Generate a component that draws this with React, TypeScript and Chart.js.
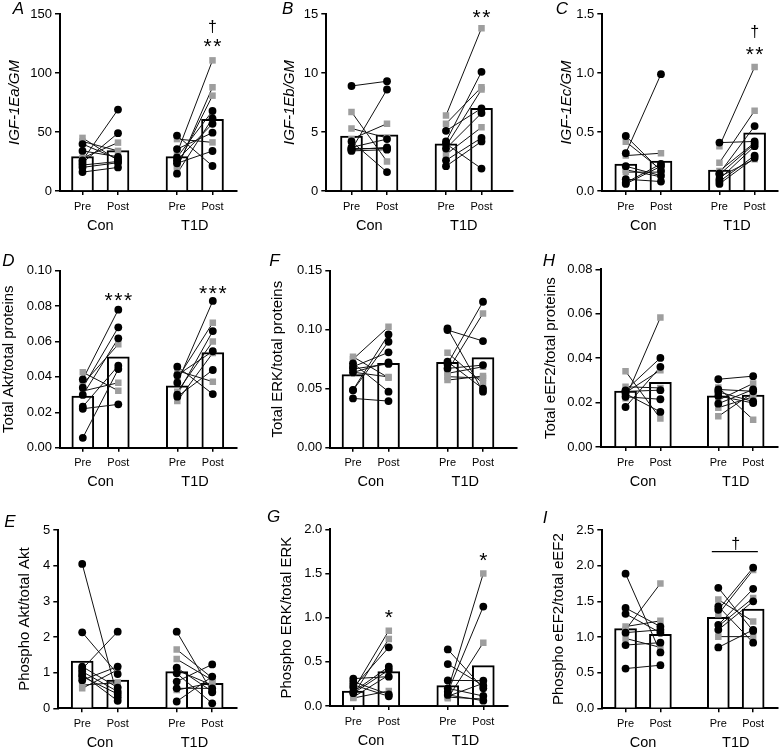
import React, { useEffect, useRef } from 'react';
import { Chart, registerables } from 'chart.js';

Chart.register(...registerables);

const FONT = "'Liberation Sans', Arial, Helvetica, sans-serif";
Chart.defaults.font.family = FONT;
Chart.defaults.color = '#000';

const GRAY = '#9e9e9e';

// shared axis labels
const TIME_LABELS = ['Pre', 'Post', 'Pre', 'Post'];
const GROUP_LABELS = ['Con', 'T1D'];

// ---------- A: IGF-1Ea/GM
const A_CON_PRE = [45, 42, 28, 39.8, 34, 26, 24, 22, 20, 16];
const A_CON_POST = [26, 34, 41, 27, 29, 69, 49, 25, 24, 20];
const A_CON_MARK = ['g', 'g', 'g', 'b', 'b', 'b', 'b', 'b', 'b', 'b'];
const A_T1D_PRE = [47, 35.5, 28.5, 26, 23.5, 14.7, 44, 32, 19, 21];
const A_T1D_POST = [21.2, 49.4, 67.8, 57, 33.9, 61.6, 41.2, 110.7, 87.9, 80.8];
const A_T1D_MARK = ['b', 'b', 'b', 'b', 'b', 'b', 'g', 'g', 'g', 'g'];
const A_MEANS = [29.1, 34.2, 29.1, 60.7];
const A_NOTES = [{ text: '†', at: 3, y: 139 }, { text: '**', at: 3, y: 127 }];

// ---------- B: IGF-1Eb/GM
const B_CON_PRE = [8.9, 3.5, 6.7, 5.3, 4.4, 4.2, 3.7, 3.6, 3.4, 3.5];
const B_CON_POST = [9.3, 8.6, 2.5, 4.5, 5.7, 1.6, 4.4, 3.6, 3.5, 3.7];
const B_CON_MARK = ['b', 'b', 'g', 'g', 'g', 'b', 'b', 'b', 'b', 'b'];
const B_T1D_PRE = [6.4, 5.7, 3.8, 3.1, 5.1, 4.2, 4.0, 3.6, 2.6, 2.1];
const B_T1D_POST = [13.8, 8.8, 8.6, 5.4, 7.0, 10.1, 1.9, 6.6, 4.5, 4.2];
const B_T1D_MARK = ['g', 'g', 'g', 'g', 'b', 'b', 'b', 'b', 'b', 'b'];
const B_MEANS = [4.66, 4.75, 4.0, 7.0];
const B_NOTES = [{ text: '**', at: 3, y: 15.17 }];

// ---------- C: IGF-1Ec/GM
const C_CON_PRE = [0.466, 0.32, 0.21, 0.10, 0.07, 0.06, 0.418, 0.30, 0.18, 0.16];
const C_CON_POST = [0.17, 0.99, 0.13, 0.08, 0.23, 0.21, 0.18, 0.32, 0.12, 0.16];
const C_CON_MARK = ['b', 'b', 'b', 'b', 'b', 'b', 'g', 'g', 'g', 'g'];
const C_T1D_PRE = [0.38, 0.24, 0.41, 0.15, 0.17, 0.14, 0.10, 0.08, 0.06, 0.12];
const C_T1D_POST = [1.05, 0.68, 0.42, 0.55, 0.41, 0.40, 0.38, 0.30, 0.28, 0.27];
const C_T1D_MARK = ['g', 'g', 'b', 'b', 'g', 'b', 'b', 'b', 'b', 'g'];
const C_MEANS = [0.229, 0.254, 0.178, 0.494];
const C_NOTES = [{ text: '†', at: 3, y: 1.341 }, { text: '**', at: 3, y: 1.205 }];

// ---------- D: Total Akt/total proteins
const D_CON_PRE = [0.0426, 0.036, 0.032, 0.0386, 0.0339, 0.0298, 0.0232, 0.022, 0.0056];
const D_CON_POST = [0.0322, 0.0584, 0.0367, 0.078, 0.068, 0.0618, 0.0463, 0.0245, 0.0444];
const D_CON_MARK = ['g', 'g', 'g', 'b', 'b', 'b', 'b', 'b', 'b'];
const D_T1D_PRE = [0.0458, 0.041, 0.0367, 0.030, 0.0288, 0.0435, 0.039, 0.0316, 0.0264];
const D_T1D_POST = [0.0303, 0.0545, 0.0829, 0.0659, 0.0439, 0.0373, 0.0706, 0.060, 0.0535];
const D_T1D_MARK = ['b', 'b', 'b', 'b', 'b', 'g', 'g', 'g', 'g'];
const D_MEANS = [0.0292, 0.0514, 0.035, 0.0537];
const D_NOTES = [{ text: '***', at: 1, y: 0.0861 }, { text: '***', at: 3, y: 0.0903 }];

// ---------- F: Total ERK/total proteins
const F_CON_PRE = [0.0771, 0.075, 0.064, 0.0715, 0.0686, 0.0667, 0.0638, 0.049, 0.0486, 0.0418];
const F_CON_POST = [0.0593, 0.1025, 0.060, 0.0475, 0.0808, 0.071, 0.0723, 0.096, 0.0898, 0.0395];
const F_CON_MARK = ['g', 'g', 'g', 'b', 'b', 'b', 'b', 'b', 'b', 'b'];
const F_T1D_PRE = [0.1011, 0.0997, 0.0729, 0.0709, 0.0672, 0.0805, 0.065, 0.063, 0.0602, 0.0573];
const F_T1D_POST = [0.0475, 0.0904, 0.050, 0.1237, 0.070, 0.0545, 0.1138, 0.0686, 0.059, 0.0607];
const F_T1D_MARK = ['b', 'b', 'b', 'b', 'b', 'g', 'g', 'g', 'g', 'g'];
const F_MEANS = [0.0619, 0.0715, 0.0723, 0.0763];
const F_NOTES: Note[] = [];

// ---------- H: Total eEF2/total proteins
const H_CON_PRE = [0.0341, 0.022, 0.0271, 0.0245, 0.0255, 0.018, 0.025, 0.024, 0.0226];
const H_CON_POST = [0.0128, 0.0583, 0.0266, 0.0346, 0.0401, 0.0361, 0.0256, 0.0158, 0.0215];
const H_CON_MARK = ['g', 'g', 'g', 'g', 'b', 'b', 'b', 'b', 'b'];
const H_T1D_PRE = [0.0305, 0.0268, 0.0259, 0.023, 0.0211, 0.0195, 0.0177, 0.0138, 0.0248];
const H_T1D_POST = [0.0319, 0.0123, 0.0251, 0.0198, 0.0286, 0.0259, 0.0226, 0.0245, 0.0205];
const H_T1D_MARK = ['b', 'g', 'b', 'b', 'g', 'b', 'g', 'g', 'b'];
const H_MEANS = [0.0252, 0.0291, 0.023, 0.0234];
const H_NOTES: Note[] = [];

// ---------- E: Phospho Akt/total Akt
const E_CON_PRE = [4.05, 2.13, 1.10, 1.17, 1.03, 0.95, 0.89, 0.79, 0.65, 0.56];
const E_CON_POST = [0.31, 0.96, 2.15, 0.58, 0.47, 0.21, 0.40, 1.17, 0.72, 1.08];
const E_CON_MARK = ['b', 'b', 'b', 'b', 'b', 'b', 'b', 'b', 'g', 'g'];
const E_T1D_PRE = [2.15, 1.65, 1.38, 1.14, 1.07, 0.98, 0.75, 0.56, 0.51, 0.19];
const E_T1D_POST = [0.45, 0.85, 0.79, 0.47, 0.65, 0.14, 1.23, 0.56, 0.72, 0.89];
const E_T1D_MARK = ['b', 'g', 'g', 'b', 'g', 'b', 'b', 'b', 'g', 'b'];
const E_MEANS = [1.327, 0.794, 1.03, 0.70];
const E_NOTES: Note[] = [];

// ---------- G: Phospho ERK/total ERK
const G_CON_PRE = [0.31, 0.275, 0.24, 0.21, 0.18, 0.16, 0.145, 0.125, 0.09, 0.10];
const G_CON_POST = [0.332, 0.132, 0.109, 0.664, 0.853, 0.445, 0.408, 0.758, 0.17, 0.35];
const G_CON_MARK = ['b', 'b', 'b', 'b', 'g', 'b', 'b', 'g', 'g', 'g'];
const G_T1D_PRE = [0.64, 0.475, 0.16, 0.18, 0.087, 0.29, 0.2, 0.125, 0.11, 0.10];
const G_T1D_POST = [0.20, 0.23, 1.125, 1.50, 0.717, 0.287, 0.113, 0.06, 0.257, 0.079];
const G_T1D_MARK = ['b', 'b', 'b', 'g', 'g', 'b', 'b', 'b', 'g', 'g'];
const G_MEANS = [0.17, 0.389, 0.23, 0.457];
const G_NOTES = [{ text: '*', at: 1, y: 1.058 }, { text: '*', at: 3, y: 1.709 }];

// ---------- I: Phospho eEF2/total eEF2
const I_CON_PRE = [1.887, 1.406, 1.325, 1.146, 1.10, 1.061, 0.98, 0.887, 0.557];
const I_CON_POST = [0.783, 1.146, 1.06, 1.226, 1.75, 1.10, 0.854, 0.92, 0.604];
const I_CON_MARK = ['b', 'b', 'b', 'g', 'g', 'b', 'g', 'b', 'b'];
const I_T1D_PRE = [1.689, 1.429, 1.382, 1.17, 1.10, 0.854, 1.524, 1.32, 1.15, 1.005];
const I_T1D_POST = [1.085, 0.92, 1.972, 1.675, 1.50, 1.10, 1.217, 1.939, 1.547, 1.005];
const I_T1D_MARK = ['b', 'b', 'b', 'b', 'b', 'b', 'g', 'g', 'g', 'g'];
const I_MEANS = [1.118, 1.038, 1.274, 1.39];
const I_NOTES = [{ text: '†', group: 1, y: 2.30 }];
const I_BRACKET = { y: 2.196 };

type Note = { text: string; at?: number; group?: number; y: number };

// ---------- layout (pixels)
const POS = [0, 35.5, 94.5, 130];
const GROUP_POS = [17.75, 112.25];

type Geo = {
  cx: number; cy: number; cw: number; ch: number;
  axisX: number; yTop: number; y0: number; xRight: number; conPreX: number;
  titleX: number; letterX: number; letterY: number;
};

const GEO: Record<string, Geo> = {
  A: { cx: 0, cy: 0, cw: 262, ch: 245, axisX: 60, yTop: 14, y0: 191, xRight: 237, conPreX: 82.5, titleX: 15, letterX: 18.3, letterY: 9.5 },
  B: { cx: 262, cy: 0, cw: 262, ch: 245, axisX: 326.3, yTop: 14, y0: 191, xRight: 512.7, conPreX: 351.5, titleX: 290, letterX: 287.7, letterY: 9.5 },
  C: { cx: 524, cy: 0, cw: 258, ch: 245, axisX: 602.3, yTop: 14, y0: 191, xRight: 779, conPreX: 626, titleX: 566.5, letterX: 562, letterY: 9.5 },
  D: { cx: 0, cy: 245, cw: 262, ch: 250, axisX: 60, yTop: 270.7, y0: 447.7, xRight: 236.7, conPreX: 82.8, titleX: 8.7, letterX: 8.5, letterY: 261 },
  F: { cx: 262, cy: 245, cw: 262, ch: 250, axisX: 330.3, yTop: 270.7, y0: 447.7, xRight: 517, conPreX: 353, titleX: 278.3, letterX: 274.5, letterY: 261 },
  H: { cx: 524, cy: 245, cw: 258, ch: 250, axisX: 600.5, yTop: 269.3, y0: 447, xRight: 780.7, conPreX: 626, titleX: 550.7, letterX: 549, letterY: 261 },
  E: { cx: 0, cy: 495, cw: 262, ch: 252, axisX: 58.3, yTop: 530, y0: 708.3, xRight: 236.7, conPreX: 82.2, titleX: 25, letterX: 10, letterY: 522.5 },
  G: { cx: 262, cy: 495, cw: 262, ch: 252, axisX: 330.3, yTop: 529.3, y0: 706, xRight: 508, conPreX: 353.3, titleX: 287, letterX: 273.7, letterY: 517 },
  I: { cx: 524, cy: 495, cw: 258, ch: 252, axisX: 602.3, yTop: 530, y0: 708.3, xRight: 780.7, conPreX: 626, titleX: 559, letterX: 545, letterY: 518 },
};

type PanelDef = {
  letter: string; title: string; italic: boolean; max: number; step: number; dec: number;
  conPre: number[]; conPost: number[]; conMark: string[];
  t1dPre: number[]; t1dPost: number[]; t1dMark: string[];
  means: number[]; notes: Note[]; bracket?: { y: number };
};

const PANELS: PanelDef[] = [
  { letter: 'A', title: 'IGF-1Ea/GM', italic: true, max: 150, step: 50, dec: 0, conPre: A_CON_PRE, conPost: A_CON_POST, conMark: A_CON_MARK, t1dPre: A_T1D_PRE, t1dPost: A_T1D_POST, t1dMark: A_T1D_MARK, means: A_MEANS, notes: A_NOTES },
  { letter: 'B', title: 'IGF-1Eb/GM', italic: true, max: 15, step: 5, dec: 0, conPre: B_CON_PRE, conPost: B_CON_POST, conMark: B_CON_MARK, t1dPre: B_T1D_PRE, t1dPost: B_T1D_POST, t1dMark: B_T1D_MARK, means: B_MEANS, notes: B_NOTES },
  { letter: 'C', title: 'IGF-1Ec/GM', italic: true, max: 1.5, step: 0.5, dec: 1, conPre: C_CON_PRE, conPost: C_CON_POST, conMark: C_CON_MARK, t1dPre: C_T1D_PRE, t1dPost: C_T1D_POST, t1dMark: C_T1D_MARK, means: C_MEANS, notes: C_NOTES },
  { letter: 'D', title: 'Total Akt/total proteins', italic: false, max: 0.1, step: 0.02, dec: 2, conPre: D_CON_PRE, conPost: D_CON_POST, conMark: D_CON_MARK, t1dPre: D_T1D_PRE, t1dPost: D_T1D_POST, t1dMark: D_T1D_MARK, means: D_MEANS, notes: D_NOTES },
  { letter: 'F', title: 'Total ERK/total proteins', italic: false, max: 0.15, step: 0.05, dec: 2, conPre: F_CON_PRE, conPost: F_CON_POST, conMark: F_CON_MARK, t1dPre: F_T1D_PRE, t1dPost: F_T1D_POST, t1dMark: F_T1D_MARK, means: F_MEANS, notes: F_NOTES },
  { letter: 'H', title: 'Total eEF2/total proteins', italic: false, max: 0.08, step: 0.02, dec: 2, conPre: H_CON_PRE, conPost: H_CON_POST, conMark: H_CON_MARK, t1dPre: H_T1D_PRE, t1dPost: H_T1D_POST, t1dMark: H_T1D_MARK, means: H_MEANS, notes: H_NOTES },
  { letter: 'E', title: 'Phospho Akt/total Akt', italic: false, max: 5, step: 1, dec: 0, conPre: E_CON_PRE, conPost: E_CON_POST, conMark: E_CON_MARK, t1dPre: E_T1D_PRE, t1dPost: E_T1D_POST, t1dMark: E_T1D_MARK, means: E_MEANS, notes: E_NOTES },
  { letter: 'G', title: 'Phospho ERK/total ERK', italic: false, max: 2, step: 0.5, dec: 1, conPre: G_CON_PRE, conPost: G_CON_POST, conMark: G_CON_MARK, t1dPre: G_T1D_PRE, t1dPost: G_T1D_POST, t1dMark: G_T1D_MARK, means: G_MEANS, notes: G_NOTES },
  { letter: 'I', title: 'Phospho eEF2/total eEF2', italic: false, max: 2.5, step: 0.5, dec: 1, conPre: I_CON_PRE, conPost: I_CON_POST, conMark: I_CON_MARK, t1dPre: I_T1D_PRE, t1dPost: I_T1D_POST, t1dMark: I_T1D_MARK, means: I_MEANS, notes: I_NOTES, bracket: I_BRACKET },
];

function buildConfig(p: PanelDef): any {
  const g = GEO[p.letter];
  const xmin = g.axisX - g.conPreX;
  const xmax = g.xRight - g.conPreX;
  const lines: any[] = [];
  const black: any[] = [];
  const gray: any[] = [];
  const addGroup = (pre: number[], post: number[], mark: string[], k: number) => {
    pre.forEach((v, i) => {
      const a = { x: POS[k], y: v };
      const b = { x: POS[k + 1], y: post[i] };
      lines.push({
        type: 'line', data: [a, b], borderColor: '#111', borderWidth: 1,
        pointRadius: 0, pointHoverRadius: 0, fill: false, tension: 0, order: 5,
      });
      (mark[i] === 'g' ? gray : black).push(a, b);
    });
  };
  addGroup(p.conPre, p.conPost, p.conMark, 0);
  addGroup(p.t1dPre, p.t1dPost, p.t1dMark, 2);

  const datasets = [
    {
      type: 'bar', data: p.means.map((m, i) => ({ x: POS[i], y: m })),
      backgroundColor: '#fff', borderColor: '#000', borderWidth: 2, barThickness: 22, order: 10,
    },
    ...lines,
    {
      type: 'line', data: gray, showLine: false, pointStyle: 'rect', pointRadius: 4.6,
      pointBackgroundColor: GRAY, pointBorderWidth: 0, pointBorderColor: GRAY, order: 2,
    },
    {
      type: 'line', data: black, showLine: false, pointStyle: 'circle', pointRadius: 3.9,
      pointBackgroundColor: '#000', pointBorderWidth: 0, pointBorderColor: '#000', order: 1,
    },
  ];

  const notesPlugin = {
    id: 'panelNotes',
    afterDraw(chart: any) {
      const ctx = chart.ctx;
      const xs = chart.scales.x;
      const ys = chart.scales.y;
      ctx.save();
      ctx.fillStyle = '#000';
      ctx.textAlign = 'center';
      ctx.textBaseline = 'middle';
      ctx.font = `italic 17px ${FONT}`;
      ctx.fillText(p.letter, g.letterX - g.cx, g.letterY - g.cy);
      p.notes.forEach((n) => {
        const x = xs.getPixelForValue(n.group != null ? GROUP_POS[n.group] : POS[n.at as number]);
        const y = ys.getPixelForValue(n.y);
        const star = n.text.includes('*');
        const size = star ? 21 : 16;
        ctx.font = `${size}px ${FONT}`;
        ctx.textBaseline = 'alphabetic';
        ctx.letterSpacing = star ? '1.5px' : '0px';
        ctx.fillText(n.text, x + (star ? 0.75 : 0), y + (star ? 0.57 : 0.29) * size);
      });
      if (p.bracket) {
        const y = ys.getPixelForValue(p.bracket.y);
        ctx.strokeStyle = '#000';
        ctx.lineWidth = 1.3;
        ctx.beginPath();
        ctx.moveTo(xs.getPixelForValue(POS[2]) - 6.5, y);
        ctx.lineTo(xs.getPixelForValue(POS[3]) + 4.7, y);
        ctx.stroke();
      }
      ctx.restore();
    },
  };

  return {
    type: 'bar',
    data: { datasets },
    plugins: [notesPlugin],
    options: {
      animation: false,
      responsive: false,
      events: [],
      layout: { padding: { left: 0, top: g.yTop - g.cy, right: g.cx + g.cw - g.xRight, bottom: 0 } },
      plugins: { legend: { display: false }, tooltip: { enabled: false }, title: { display: false } },
      scales: {
        x: {
          type: 'linear', position: 'bottom', min: xmin, max: xmax, offset: false, weight: 0, z: 1,
          afterBuildTicks: (s: any) => { s.ticks = POS.map((v) => ({ value: v })); },
          afterFit: (s: any) => { s.height = 22; },
          ticks: {
            autoSkip: false, maxRotation: 0, minRotation: 0, padding: 5, color: '#000',
            font: { size: 11 }, callback: (_v: any, i: number) => TIME_LABELS[i],
          },
          grid: { display: true, drawOnChartArea: false, drawTicks: true, tickLength: 4, color: '#000', lineWidth: 1.5, offset: false },
          border: { display: true, color: '#000', width: 2 },
        },
        x2: {
          type: 'linear', position: 'bottom', min: xmin, max: xmax, offset: false, weight: 1,
          afterBuildTicks: (s: any) => { s.ticks = GROUP_POS.map((v) => ({ value: v })); },
          afterFit: (s: any) => { s.height = g.cy + g.ch - g.y0 - 22; },
          ticks: {
            autoSkip: false, maxRotation: 0, minRotation: 0, padding: 4, color: '#000',
            font: { size: 14.5 }, callback: (_v: any, i: number) => GROUP_LABELS[i],
          },
          grid: { display: false, drawTicks: false, tickLength: 0, offset: false },
          border: { display: false },
        },
        y: {
          type: 'linear', position: 'left', min: 0, max: p.max,
          afterFit: (s: any) => { s.width = g.axisX - g.cx; },
          ticks: {
            stepSize: p.step, padding: 3, color: '#000', font: { size: 13 },
            callback: (v: any) => Number(v).toFixed(p.dec),
          },
          grid: { display: true, drawOnChartArea: false, drawTicks: true, tickLength: 5, color: '#000', lineWidth: 1.5 },
          border: { display: true, color: '#000', width: 2 },
          title: {
            display: true, text: p.title, color: '#000',
            font: { size: 15, style: p.italic ? 'italic' : 'normal' },
            padding: { top: Math.max(0, g.titleX - g.cx - 9), bottom: 0 },
          },
        },
      },
    },
  };
}

function PanelChart({ p }: { p: PanelDef }) {
  const ref = useRef<HTMLCanvasElement>(null);
  const g = GEO[p.letter];
  useEffect(() => {
    const chart = new Chart(ref.current as HTMLCanvasElement, buildConfig(p));
    return () => chart.destroy();
  }, [p]);
  return (
    <canvas
      ref={ref}
      width={g.cw}
      height={g.ch}
      style={{ position: 'absolute', left: g.cx, top: g.cy, width: g.cw, height: g.ch }}
    />
  );
}

export default function App() {
  return (
    <div style={{ position: 'fixed', left: 0, top: 0, width: 782, height: 747, background: '#fff', overflow: 'hidden' }}>
      {PANELS.map((p) => (
        <PanelChart key={p.letter} p={p} />
      ))}
    </div>
  );
}
